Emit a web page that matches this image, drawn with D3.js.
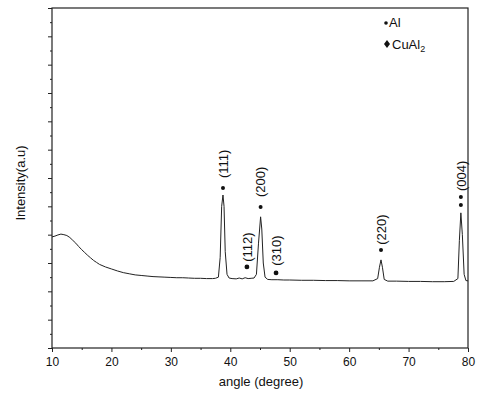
<!DOCTYPE html>
<html><head><meta charset="utf-8">
<script src="https://cdn.jsdelivr.net/npm/d3@7"></script>
<style>body{margin:0;background:#fff}svg{display:block}text{font-family:"Liberation Sans",Arial,sans-serif;fill:#111}</style>
</head><body>
<script>
const angles = [10,10.5,11,11.5,12,12.5,13,13.5,14,14.5,15,15.5,16,16.5,17,17.5,18,19,20,21,22,23,24,25,26,27,28,29,30,31,32,33,34,35,36,37,37.5,38,38.3,38.55,38.77,38.95,39.15,39.45,39.8,40.3,41,41.5,42,42.5,43,43.5,44,44.4,44.75,45.1,45.3,45.55,45.85,46.3,47,48,49,50,52,54,56,58,60,62,64,64.8,65.1,65.36,65.6,65.9,66.5,68,70,72,74,76,77.6,78.3,78.55,78.8,79.05,79.35,79.65,80];
const intensity = [3.92,3.95,3.99,4.02,4.00,3.97,3.90,3.80,3.70,3.58,3.47,3.37,3.27,3.18,3.09,3.02,2.95,2.86,2.79,2.72,2.66,2.62,2.58,2.56,2.54,2.52,2.51,2.50,2.49,2.48,2.48,2.47,2.46,2.46,2.45,2.45,2.46,2.50,3.2,5.0,5.4,5.0,3.4,2.6,2.47,2.45,2.44,2.47,2.44,2.48,2.45,2.46,2.47,2.6,3.7,4.63,4.2,3.0,2.5,2.42,2.41,2.41,2.40,2.40,2.39,2.39,2.38,2.38,2.37,2.37,2.37,2.45,2.85,3.11,2.85,2.42,2.36,2.36,2.35,2.35,2.34,2.34,2.35,2.45,3.8,4.77,4.0,2.6,2.38,2.37];
const alAngles = [38.77,45.1,65.36,78.8,78.8];
const alLevels = [5.65,4.98,3.46,5.05,5.33];
const cuAngles = [42.8,47.7];
const cuLevels = [2.86,2.65];
const peakLabels = ["(111)","(200)","(220)","(004)","(112)","(310)"];
const labelAngles = [38.77,45.1,65.36,78.8,42.8,47.7];
const labelLevels = [6.0,5.33,3.64,5.54,3.04,2.9];
const xTicks = [10,20,30,40,50,60,70,80];
const legendNames = ["Al","CuAl"];

const W=477,H=394;
const svg=d3.select("body").append("svg").attr("width",W).attr("height",H);
const x=d3.scaleLinear().domain([10,80]).range([52,468]);
const y=d3.scaleLinear().domain([0,12]).range([348,8]);

// frame
svg.append("rect").attr("x",52).attr("y",8).attr("width",416).attr("height",340)
  .attr("fill","none").attr("stroke","#222").attr("stroke-width",1.2);

// x axis
const gx=svg.append("g").attr("transform","translate(0,348)");
gx.call(d3.axisBottom(x).tickValues(xTicks).tickSize(4).tickFormat(d3.format("d")));
gx.append("g").call(d3.axisBottom(x).tickValues(d3.range(15,80,10)).tickSize(2).tickFormat(""));
gx.selectAll(".domain").remove();
gx.selectAll("line").attr("stroke","#222");
gx.selectAll("text").attr("font-size",12).attr("dy","0.9em").attr("fill","#111");

// y axis (no labels)
const gy=svg.append("g").attr("transform","translate(52,0)");
gy.call(d3.axisLeft(y).tickValues(d3.range(0,13,1)).tickSize(4).tickFormat(""));
gy.append("g").call(d3.axisLeft(y).tickValues(d3.range(0.5,12,1)).tickSize(2).tickFormat(""));
gy.selectAll(".domain").remove();
gy.selectAll("line").attr("stroke","#222");

// curve
svg.append("path").datum(angles.map((a,i)=>[a,intensity[i]]))
  .attr("d",d3.line().x(d=>x(d[0])).y(d=>y(d[1])))
  .attr("fill","none").attr("stroke","#222").attr("stroke-width",1);

// markers
svg.selectAll(".al").data(alAngles).join("circle")
  .attr("cx",d=>x(d)).attr("cy",(d,i)=>y(alLevels[i])).attr("r",2).attr("fill","#111");
svg.selectAll(".cu").data(cuAngles).join("circle")
  .attr("cx",d=>x(d)).attr("cy",(d,i)=>y(cuLevels[i])).attr("r",2.4).attr("fill","#111");

// peak labels
svg.selectAll(".pl").data(peakLabels).join("text")
  .attr("transform",(d,i)=>`translate(${x(labelAngles[i])},${y(labelLevels[i])}) rotate(-90)`)
  .attr("dy","0.36em").attr("font-size",13).text(d=>d);

// legend
const lg=svg.append("g");
lg.append("circle").attr("cx",386).attr("cy",23).attr("r",1.8).attr("fill","#111");
lg.append("text").attr("x",389).attr("y",27).attr("font-size",13).text(legendNames[0]);
lg.append("path").attr("d","M387,44 l3,-4 l3,4 l-3,4 z").attr("transform","translate(-3,0)").attr("fill","#111");
const t2=lg.append("text").attr("x",392).attr("y",49).attr("font-size",13).text(legendNames[1]);
t2.append("tspan").attr("font-size",9).attr("dy",3).text("2");

// axis titles
svg.append("text").attr("x",261).attr("y",386).attr("text-anchor","middle").attr("font-size",13).text("angle (degree)");
svg.append("text").attr("transform","translate(20,183) rotate(-90)").attr("text-anchor","middle")
  .attr("dy","0.35em").attr("font-size",13).text("Intensity(a.u)");
</script>
</body></html>
